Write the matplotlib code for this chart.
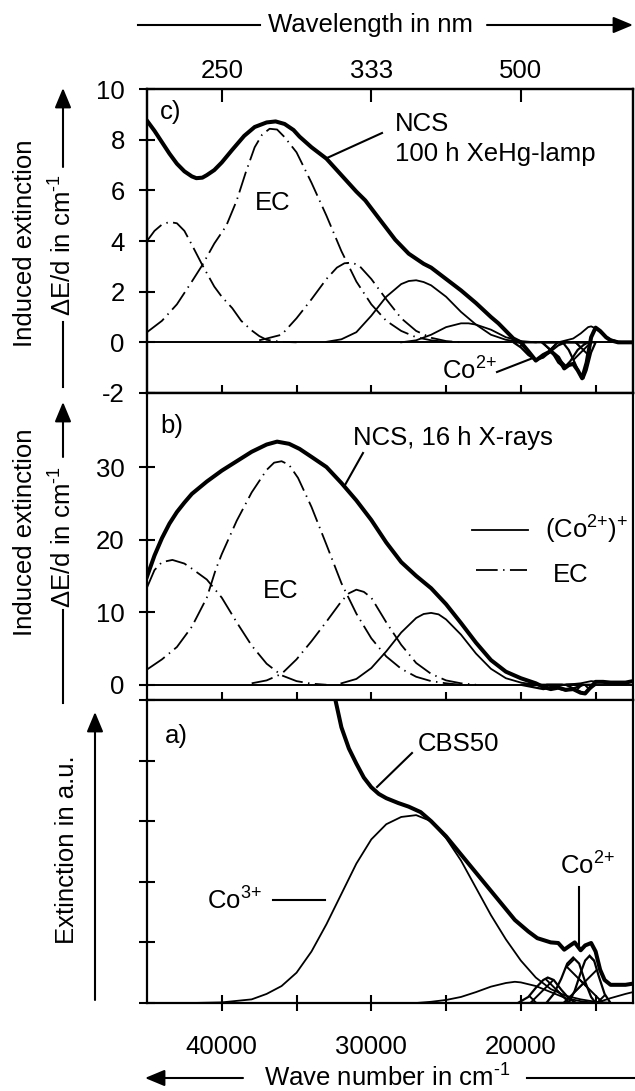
import numpy as np
import matplotlib
matplotlib.use("Agg")
import matplotlib.pyplot as plt
from matplotlib.lines import Line2D
from matplotlib.patches import FancyArrowPatch

plt.rcParams['font.family'] = ['Liberation Sans', 'DejaVu Sans']
plt.rcParams['mathtext.fontset'] = 'custom'
plt.rcParams['mathtext.rm'] = 'Liberation Sans'
plt.rcParams['mathtext.it'] = 'Liberation Sans:italic'
plt.rcParams['mathtext.bf'] = 'Liberation Sans:bold'
plt.rcParams['axes.unicode_minus'] = False
plt.rcParams['hatch.linewidth'] = 1.4
plt.rcParams['hatch.color'] = 'black'

# ---------------- data (wave number in cm^-1, value) ----------------
x_ticks = [40000, 35000, 30000, 25000, 20000, 15000]
x_ticklabels = ['40000', '', '30000', '', '20000', '']
top_ticks = [40000, 30000, 20000]
top_ticklabels = ['250', '333', '500']
c_yticks = [-2, 0, 2, 4, 6, 8, 10]
b_yticks = [0, 10, 20, 30]
a_yticks = [0, 1, 2, 3, 4, 5]

# panel c) NCS 100 h XeHg-lamp
c_total = [(45000, 8.75), (44500, 8.35), (44000, 7.9), (43500, 7.45), (43000, 7.05), (42500, 6.75),
           (42000, 6.55), (41700, 6.48), (41300, 6.5), (41000, 6.6), (40500, 6.8), (40000, 7.1),
           (39300, 7.6), (38500, 8.15), (37800, 8.5), (37000, 8.68), (36400, 8.72), (35800, 8.62),
           (35200, 8.38), (34800, 8.12), (34000, 7.7), (33000, 7.25), (32000, 6.6), (31000, 5.95),
           (30400, 5.6), (29500, 4.9), (28400, 4.05), (27500, 3.5), (26500, 3.1), (26000, 2.95),
           (25000, 2.5), (24000, 2.05), (23000, 1.55), (22000, 1.0), (21500, 0.75), (21000, 0.45),
           (20500, 0.15), (20000, 0.0), (19500, -0.35), (19000, -0.72), (18500, -0.5), (18000, -0.35),
           (17500, -0.6), (17100, -1.03), (16800, -0.9), (16500, -0.85), (16200, -1.1), (15900, -1.42),
           (15600, -0.8), (15300, 0.2), (15000, 0.58), (14700, 0.45), (14300, 0.2), (14000, 0.08),
           (13500, 0.0), (12500, 0.0)]
c_ec1 = [(45000, 4.0), (44500, 4.4), (44000, 4.65), (43500, 4.75), (43000, 4.7), (42500, 4.4),
         (42000, 3.85), (41300, 3.05), (40500, 2.2), (40000, 1.8), (39300, 1.35), (38700, 0.85),
         (38000, 0.47), (37500, 0.25), (37000, 0.1), (36000, 0.02), (35000, 0.0)]
c_ec2 = [(45000, 0.4), (44000, 0.85), (43000, 1.5), (42000, 2.4), (41300, 3.05), (40500, 3.9),
         (39700, 4.6), (39000, 5.6), (38400, 6.7), (37800, 7.7), (37300, 8.2), (36800, 8.43),
         (36300, 8.4), (35800, 8.1), (35000, 7.5), (34000, 6.3), (33000, 5.0), (32000, 3.6),
         (31000, 2.4), (30000, 1.5), (29000, 0.85), (28000, 0.45), (27000, 0.2), (26000, 0.08),
         (25000, 0.02)]
c_ec3 = [(37500, 0.08), (37000, 0.15), (36000, 0.3), (35000, 0.95), (34000, 1.7), (33000, 2.5),
         (32300, 2.95), (31800, 3.12), (31300, 3.15), (30800, 3.02), (30000, 2.5), (29000, 1.7),
         (28000, 0.95), (27000, 0.45), (26000, 0.18), (25000, 0.05), (24000, 0.0)]
c_co_a = [(33000, 0.02), (32000, 0.12), (31000, 0.4), (30000, 1.05), (29000, 1.8), (28000, 2.3),
          (27500, 2.42), (27000, 2.45), (26500, 2.38), (26000, 2.25), (25000, 1.8), (24000, 1.2),
          (23000, 0.7), (22000, 0.3), (21000, 0.1), (20000, 0.02)]
c_co_b = [(28000, 0.0), (27000, 0.08), (26000, 0.3), (25000, 0.6), (24000, 0.75), (23500, 0.75),
          (23000, 0.7), (22000, 0.5), (21000, 0.2), (20000, 0.05), (19000, 0.0)]
c_co_c = [(17500, 0.0), (16500, 0.15), (16000, 0.35), (15500, 0.6), (15300, 0.63), (15000, 0.55),
          (14500, 0.3), (14000, 0.12), (13500, 0.03), (13000, 0.0)]
c_co2_1 = [(20500, 0.0), (20000, -0.2), (19500, -0.5), (19000, -0.7), (18500, -0.6), (18000, -0.35),
           (17500, -0.12), (17000, 0.0)]
c_co2_2 = [(18600, 0.0), (18000, -0.3), (17500, -0.8), (17100, -1.0), (16700, -0.75), (16200, -0.3),
           (15800, -0.1), (15500, 0.0)]
c_co2_3 = [(17200, 0.0), (16800, -0.3), (16400, -0.8), (16000, -1.35), (15800, -1.4), (15600, -1.1),
           (15300, -0.4), (15000, 0.0)]

# panel b) NCS 16 h X-rays
b_total = [(45000, 14.9), (44500, 17.8), (44000, 20.2), (43500, 22.2), (43000, 23.8), (42500, 25.1),
           (42000, 26.3), (41000, 28.0), (40000, 29.5), (39000, 30.8), (38000, 32.1), (37000, 33.1),
           (36300, 33.5), (35500, 33.2), (34800, 32.5), (34000, 31.4), (33000, 30.0), (32000, 27.8),
           (31000, 25.4), (30000, 22.7), (29000, 19.6), (28000, 16.9), (27000, 15.0), (26000, 13.3),
           (25000, 11.1), (24000, 8.5), (23000, 5.8), (22000, 3.4), (21000, 1.8), (20000, 0.9),
           (19000, 0.2), (18500, -0.3), (18000, -0.6), (17500, -0.4), (17000, -0.7), (16500, -0.6),
           (16000, -1.1), (15700, -1.2), (15400, -0.5), (15000, 0.4), (14500, 0.4), (14000, 0.3),
           (13000, 0.3), (12500, 0.5)]
b_ec1 = [(45000, 13.4), (44500, 15.8), (44000, 16.9), (43300, 17.2), (42500, 16.7), (42000, 16.0),
         (41000, 14.5), (40000, 12.0), (39000, 8.6), (38000, 5.4), (37000, 2.9), (36000, 1.3),
         (35000, 0.5), (34000, 0.15), (33000, 0.0)]
b_ec2 = [(45000, 2.1), (44000, 3.5), (43000, 5.2), (42000, 8.0), (41000, 12.0), (40400, 15.9),
         (40000, 18.0), (39000, 22.6), (38000, 26.5), (37000, 29.6), (36500, 30.6), (36000, 30.8),
         (35500, 30.3), (34900, 28.5), (34000, 24.5), (33000, 19.3), (32000, 14.0), (31000, 9.8),
         (30000, 6.4), (29000, 3.9), (28000, 2.2), (27000, 1.1), (26000, 0.5), (25000, 0.2), (24000, 0.0)]
b_ec3 = [(38000, 0.2), (37000, 0.6), (36000, 1.5), (35000, 3.5), (34000, 6.0), (33000, 8.7),
         (32000, 11.5), (31500, 12.6), (31000, 13.1), (30500, 12.8), (30000, 12.0), (29000, 8.6),
         (28000, 5.5), (27000, 3.0), (26000, 1.5), (25000, 0.6), (24000, 0.2), (23000, 0.0)]
b_co_a = [(32000, 0.2), (31000, 0.8), (30000, 2.3), (29000, 4.6), (28000, 7.2), (27000, 9.2),
          (26500, 9.75), (26000, 9.9), (25500, 9.7), (25000, 9.0), (24000, 6.9), (23000, 4.3),
          (22000, 2.2), (21000, 0.9), (20000, 0.3), (19000, 0.0)]
b_co_c = [(17000, 0.0), (16000, 0.2), (15300, 0.5), (14800, 0.4), (14000, 0.2), (13000, 0.05)]
b_co2_1 = [(20000, 0.0), (19000, -0.4), (18500, -0.6), (18000, -0.4), (17200, 0.0)]
b_co2_2 = [(18300, 0.0), (17500, -0.5), (17000, -0.8), (16500, -0.5), (15800, 0.0)]
b_co2_3 = [(17000, 0.0), (16400, -0.6), (15800, -1.2), (15400, -0.6), (15000, 0.0)]

# panel a) CBS50
a_total = [(33000, 5.7), (32400, 5.0), (32000, 4.55), (31500, 4.2), (31000, 3.95), (30500, 3.72),
           (30000, 3.56), (29500, 3.45), (29000, 3.38), (28200, 3.3), (27500, 3.24), (26700, 3.15),
           (26000, 3.0), (25000, 2.75), (24000, 2.45), (23000, 2.15), (22000, 1.85), (21000, 1.55),
           (20400, 1.37), (19500, 1.18), (18900, 1.07), (18000, 1.0), (17500, 0.99), (17100, 0.88),
           (16700, 0.95), (16400, 1.0), (16000, 0.87), (15700, 0.95), (15300, 0.99), (15000, 0.85),
           (14700, 0.55), (14400, 0.38), (14000, 0.3), (13000, 0.3), (12500, 0.32)]
a_co3 = [(42000, 0.0), (40000, 0.01), (38000, 0.06), (37000, 0.15), (36000, 0.28), (35000, 0.5),
         (34000, 0.85), (33000, 1.3), (32000, 1.8), (31000, 2.3), (30000, 2.7), (29000, 2.95),
         (28000, 3.07), (27000, 3.1), (26000, 3.0), (25000, 2.72), (24000, 2.35), (23000, 1.9),
         (22000, 1.45), (21000, 1.05), (20000, 0.7), (19000, 0.42), (18000, 0.23), (17000, 0.12),
         (16000, 0.06), (15000, 0.02), (14000, 0.0)]
a_band20 = [(27000, 0.0), (26000, 0.02), (25000, 0.05), (24000, 0.1), (23000, 0.18), (22000, 0.27),
            (21000, 0.33), (20400, 0.35), (20000, 0.34), (19000, 0.28), (18000, 0.18), (17000, 0.08),
            (16000, 0.03), (15000, 0.0)]
a_tail = [(15000, 0.0), (14000, 0.08), (13000, 0.15), (12500, 0.18)]
a_co2_1 = [(20200, 0.0), (19500, 0.1), (19000, 0.25), (18500, 0.38), (18200, 0.42), (17800, 0.38),
           (17300, 0.22), (16800, 0.08), (16300, 0.0)]
a_co2_2 = [(18300, 0.0), (17800, 0.15), (17300, 0.4), (16900, 0.65), (16500, 0.75), (16100, 0.65),
           (15700, 0.35), (15300, 0.1), (15000, 0.0)]
a_co2_3 = [(16800, 0.0), (16400, 0.2), (16000, 0.5), (15700, 0.7), (15400, 0.78), (15100, 0.7),
           (14800, 0.45), (14400, 0.15), (14000, 0.0)]

# ---------------- figure ----------------
W, H = 635, 1091
FS = 18.5
fig = plt.figure(figsize=(W / 100, H / 100), dpi=100)

def rect(top, bottom, left=147, right=633):
    return [left / W, 1 - bottom / H, (right - left) / W, (bottom - top) / H]

ax_c = fig.add_axes(rect(89, 393))
ax_b = fig.add_axes(rect(393, 700))
ax_a = fig.add_axes(rect(700, 1003))

THICK, THIN = 2.9, 1.3
DASHDOT = (0, (12, 3, 0.8, 3))

def xy(pairs):
    a = np.array(pairs, dtype=float)
    return a[:, 0], a[:, 1]

def hatch_band(ax, pairs):
    x, y = xy(pairs)
    ax.fill(x, y, fill=False, hatch='x', edgecolor='k', linewidth=1.6, zorder=2)

for ax in (ax_c, ax_b, ax_a):
    ax.set_xlim(45000, 12500)
    ax.set_xticks(x_ticks)
    for s in ax.spines.values():
        s.set_linewidth(1.6)
    ax.tick_params(axis='both', direction='inout', length=12, width=1.5, labelsize=FS,
                   pad=10, top=False, right=False)

# panel c
ax_c.set_ylim(-2, 10)
ax_c.set_yticks(c_yticks)
ax_c.tick_params(axis='x', labelbottom=False)
ax_c.axhline(0, color='k', lw=1.4)
for band in (c_co2_1, c_co2_2, c_co2_3):
    hatch_band(ax_c, band)
for band in (c_ec1, c_ec2, c_ec3):
    ax_c.plot(*xy(band), color='k', lw=THIN, linestyle=DASHDOT)
for band in (c_co_a, c_co_b, c_co_c):
    ax_c.plot(*xy(band), color='k', lw=THIN)
ax_c.plot(*xy(c_total), color='k', lw=THICK, solid_joinstyle='round')

axt = ax_c.twiny()
axt.set_xlim(45000, 12500)
axt.set_xticks(top_ticks)
axt.set_xticklabels(top_ticklabels)
axt.tick_params(axis='x', direction='in', length=9, width=1.5, labelsize=FS, pad=4)
for s in axt.spines.values():
    s.set_linewidth(1.6)

# panel b
ax_b.set_ylim(-2.1, 40.2)
ax_b.set_yticks(b_yticks)
ax_b.tick_params(axis='x', labelbottom=False)
ax_b.axhline(0, color='k', lw=1.4)
for band in (b_co2_1, b_co2_2, b_co2_3):
    hatch_band(ax_b, band)
for band in (b_ec1, b_ec2, b_ec3):
    ax_b.plot(*xy(band), color='k', lw=THIN, linestyle=DASHDOT)
for band in (b_co_a, b_co_c):
    ax_b.plot(*xy(band), color='k', lw=THIN)
ax_b.plot(*xy(b_total), color='k', lw=THICK, solid_joinstyle='round')

# panel a
ax_a.set_ylim(0, 5)
ax_a.set_yticks(a_yticks)
ax_a.set_yticklabels([])
ax_a.set_xticklabels(x_ticklabels)
ax_a.tick_params(axis='x', pad=17)
for band in (a_co2_1, a_co2_2, a_co2_3):
    hatch_band(ax_a, band)
for band in (a_co3, a_band20, a_tail):
    ax_a.plot(*xy(band), color='k', lw=THIN)
ax_a.plot(*xy(a_total), color='k', lw=THICK, solid_joinstyle='round')

# ---------------- figure-level text, leaders and arrows ----------------
def F(x, y):
    return (x / W, 1 - y / H)

def ftext(x, y, s, ha='left', va='center', rot=0, size=FS):
    fig.text(x / W, 1 - y / H, s, ha=ha, va=va, rotation=rot, fontsize=size)

def fline(x0, y0, x1, y1, lw=1.5, ls='-'):
    fig.add_artist(Line2D([x0 / W, x1 / W], [1 - y0 / H, 1 - y1 / H],
                          transform=fig.transFigure, color='k', lw=lw, linestyle=ls))

def farrow(x0, y0, x1, y1):
    fig.add_artist(FancyArrowPatch(F(x0, y0), F(x1, y1), transform=fig.transFigure,
                                   arrowstyle='-|>,head_length=0.6,head_width=0.25',
                                   mutation_scale=20, lw=1.5, color='k',
                                   shrinkA=0, shrinkB=0))

SUP2 = r'$^{\text{2+}}$'
SUP3 = r'$^{\text{3+}}$'
INVCM = r'cm$^{\text{-1}}$'

# top wavelength title
ftext(371, 25, 'Wavelength in nm', ha='center')
fline(138, 25, 260, 25)
farrow(487, 25, 633, 25)

# bottom wave-number title
ftext(387, 1078, 'Wave number in ' + INVCM, ha='center')
farrow(243, 1078, 145, 1078)
fline(527, 1078, 635, 1078)

# y labels panel c
ftext(25, 243, 'Induced extinction', ha='center', rot=90)
ftext(63, 245, '\u0394E/d in ' + INVCM, ha='center', rot=90)
farrow(63, 167, 63, 88)
fline(63, 322, 63, 387)

# y labels panel b
ftext(25, 532, 'Induced extinction', ha='center', rot=90)
ftext(63, 537, '\u0394E/d in ' + INVCM, ha='center', rot=90)
farrow(63, 457, 63, 402)
fline(63, 610, 63, 703)

# y label panel a
ftext(67, 850, 'Extinction in a.u.', ha='center', rot=90)
farrow(95, 1000, 95, 712)

# panel letters
ftext(160, 112, 'c)')
ftext(160, 426, 'b)')
ftext(165, 736, 'a)')

# panel c annotations
ftext(273, 203, 'EC', ha='center')
ftext(395, 124, 'NCS')
ftext(395, 154, '100 h XeHg-lamp')
fline(382, 133, 327, 158)
ftext(442, 371, 'Co' + SUP2)
fline(497, 372, 533, 358)

# panel b annotations
ftext(281, 591, 'EC', ha='center')
ftext(353, 438, 'NCS, 16 h X-rays')
fline(363, 453, 345, 485)
fline(472, 530, 528, 530, lw=THIN)
ftext(545, 530, '(Co' + SUP2 + ')' + r'$^{\text{+}}$')
fline(476, 570, 527, 570, lw=THIN, ls=DASHDOT)
ftext(553, 575, 'EC')

# panel a annotations
ftext(418, 744, 'CBS50')
fline(412, 753, 377, 787)
ftext(207, 901, 'Co' + SUP3)
fline(273, 900, 325, 900)
ftext(560, 866, 'Co' + SUP2)
fline(579, 887, 579, 947)

fig.savefig('out.png', dpi=100)
